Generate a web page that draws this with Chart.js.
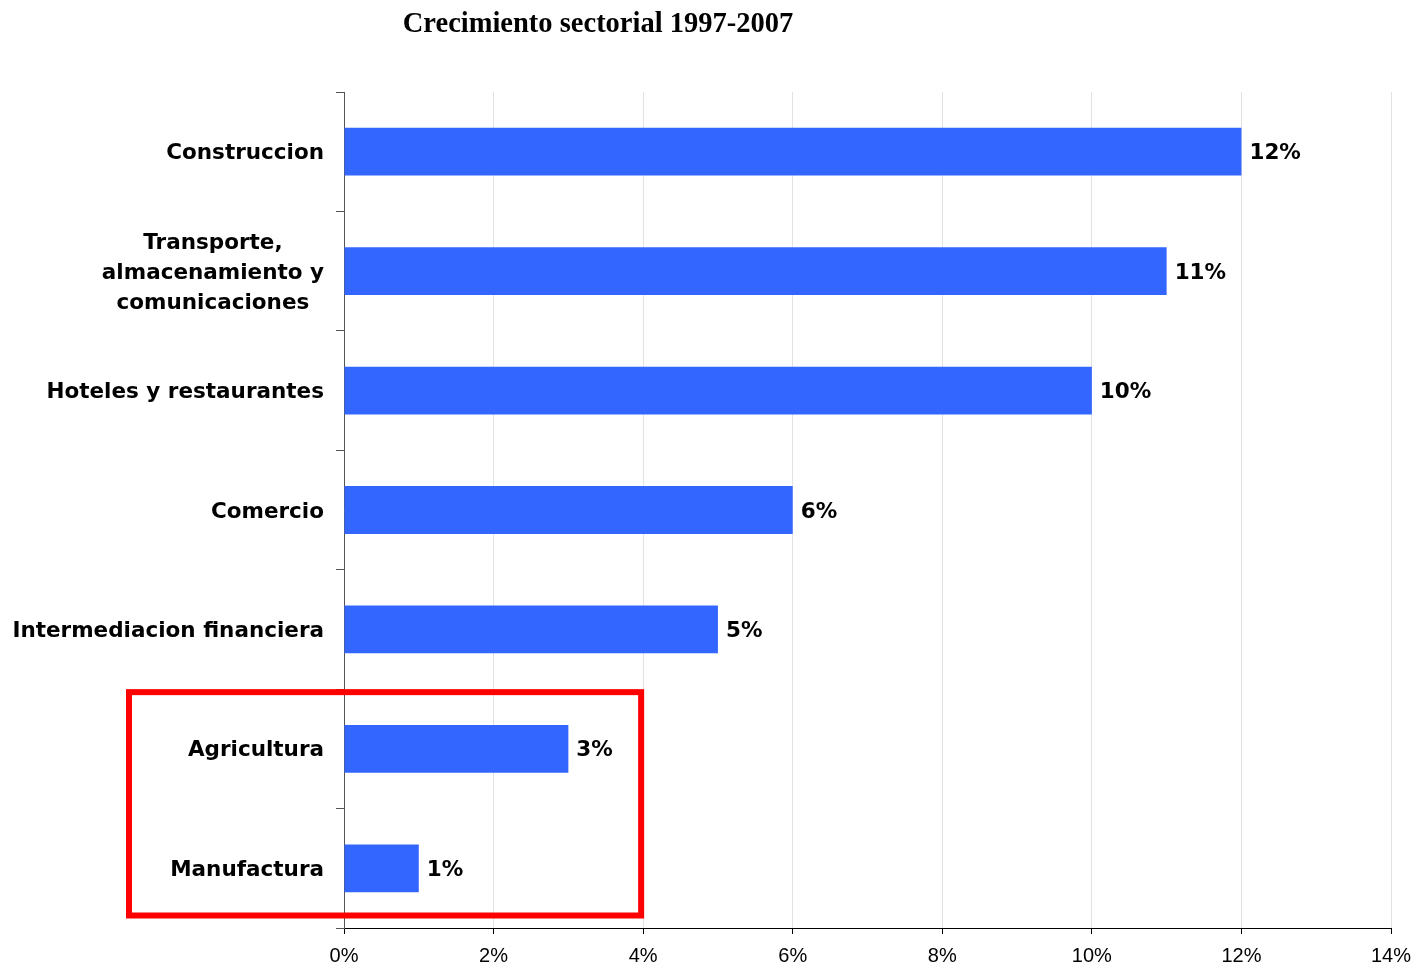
<!DOCTYPE html>
<html>
<head>
<meta charset="utf-8">
<script src="https://cdn.jsdelivr.net/npm/chart.js@4/dist/chart.umd.min.js"></script>
<style>
  html, body { margin: 0; padding: 0; background: #ffffff; }
  #wrap { width: 1416px; height: 966px; position: relative; }
</style>
</head>
<body>
<div id="wrap"><canvas id="c" width="1416" height="966"></canvas></div>
<script>
const chartTitle = 'Crecimiento sectorial 1997-2007';
const categories = [
  'Construccion',
  ['Transporte,', 'almacenamiento y', 'comunicaciones'],
  'Hoteles y restaurantes',
  'Comercio',
  'Intermediacion financiera',
  'Agricultura',
  'Manufactura'
];
const values = [12, 11, 10, 6, 5, 3, 1];
const xMin = 0, xMax = 14, xStep = 2;
const highlightFrom = 5;   // index of first highlighted category (Agricultura)
const highlightToValue = 4; // highlighted box right edge (4%)

const labelFont = 'bold 21.5px "DejaVu Sans", sans-serif';

const titlePlugin = {
  id: 'customTitle',
  afterDraw(chart) {
    const ctx = chart.ctx;
    ctx.save();
    ctx.fillStyle = '#000';
    ctx.font = 'bold 28.5px "Liberation Serif", serif';
    ctx.textAlign = 'center';
    ctx.textBaseline = 'middle';
    ctx.fillText(chartTitle, 598, 25);
    ctx.restore();
  }
};

const yLabelPlugin = {
  id: 'yLabels',
  afterDraw(chart) {
    const ctx = chart.ctx;
    const y = chart.scales.y;
    const right = y.right - 20;
    ctx.save();
    ctx.fillStyle = '#000';
    ctx.font = labelFont;
    ctx.textBaseline = 'middle';
    categories.forEach((lab, i) => {
      const cy = y.getPixelForValue(i) + 2;
      if (Array.isArray(lab)) {
        const lh = 30;
        const maxW = Math.max(...lab.map(l => ctx.measureText(l).width));
        const cx = right - maxW / 2;
        ctx.textAlign = 'center';
        lab.forEach((l, k) => {
          ctx.fillText(l, cx, cy + (k - (lab.length - 1) / 2) * lh);
        });
      } else {
        ctx.textAlign = 'right';
        ctx.fillText(lab, right, cy);
      }
    });
    ctx.restore();
  }
};

const valueLabelPlugin = {
  id: 'valueLabels',
  afterDatasetsDraw(chart) {
    const ctx = chart.ctx;
    const meta = chart.getDatasetMeta(0);
    ctx.save();
    ctx.fillStyle = '#000';
    ctx.font = labelFont;
    ctx.textAlign = 'left';
    ctx.textBaseline = 'middle';
    meta.data.forEach((bar, i) => {
      ctx.fillText(values[i] + '%', bar.x + 8, bar.y + 2);
    });
    ctx.restore();
  }
};

const boxPlugin = {
  id: 'highlightBox',
  afterDraw(chart) {
    const ctx = chart.ctx;
    const x = chart.scales.x, y = chart.scales.y;
    const top = (y.getPixelForValue(highlightFrom - 1) + y.getPixelForValue(highlightFrom)) / 2 + 3;
    const bottom = chart.chartArea.bottom - 12.5;
    const right = x.getPixelForValue(highlightToValue) - 2;
    const left = 129;
    ctx.save();
    ctx.strokeStyle = '#FF0000';
    ctx.lineWidth = 6;
    ctx.strokeRect(left, top, right - left, bottom - top);
    ctx.restore();
  }
};

new Chart(document.getElementById('c'), {
  type: 'bar',
  data: {
    labels: categories,
    datasets: [{
      data: values,
      backgroundColor: '#3366FF',
      borderWidth: 0,
      barPercentage: 0.4,
      categoryPercentage: 1.0
    }]
  },
  options: {
    indexAxis: 'y',
    responsive: false,
    animation: false,
    devicePixelRatio: 1,
    layout: { padding: { top: 92, right: 25, left: 0, bottom: 0 } },
    plugins: {
      legend: { display: false },
      title: { display: false },
      tooltip: { enabled: false }
    },
    scales: {
      x: {
        min: xMin,
        max: xMax,
        ticks: {
          stepSize: xStep,
          callback: v => v + '%',
          color: '#000',
          font: { family: '"Liberation Sans", Arial, sans-serif', size: 20 },
          padding: 10
        },
        grid: {
          color: '#e2e2e2',
          lineWidth: 1,
          tickColor: '#000',
          tickLength: 6
        },
        border: { color: '#000', width: 1 },
        afterFit(scale) {
          scale.height = 38;
          scale.paddingRight = 0;
          scale.paddingLeft = 0;
        }
      },
      y: {
        ticks: { display: false },
        grid: {
          drawOnChartArea: false,
          drawTicks: true,
          tickLength: 8,
          tickColor: '#555',
          offset: true
        },
        border: { color: '#555', width: 1 },
        afterFit(scale) { scale.width = 344; }
      }
    }
  },
  plugins: [titlePlugin, yLabelPlugin, valueLabelPlugin, boxPlugin]
});
</script>
</body>
</html>
